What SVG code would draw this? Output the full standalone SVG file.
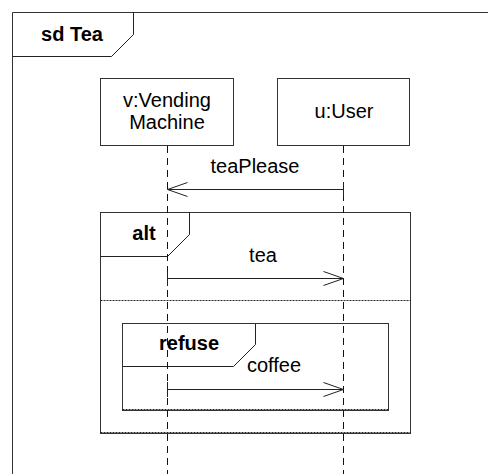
<svg xmlns="http://www.w3.org/2000/svg" width="488" height="474" viewBox="0 0 488 474">
<style>
.ln{stroke:#222;stroke-width:1;fill:none}
.fr{stroke:#333;stroke-width:1;fill:#fff}
.life{stroke:#111;stroke-width:1;stroke-dasharray:7,5;fill:none}
.t{font-family:"Liberation Sans",Arial,sans-serif;font-size:20px;fill:#000;text-anchor:middle}
.b{font-weight:bold}
.sep{stroke:#222;stroke-width:1;stroke-dasharray:2,1;fill:none}
</style>
<rect width="488" height="474" fill="#fff"/>
<g id="frame-sd">
<path class="fr" d="M12.5,474 V12.5 H488"/>
<path class="ln" d="M12.5,56.5 H111.5 L133.5,34.5 V12.5"/>
<text class="t b" x="72" y="41">sd Tea</text>
</g>
<g id="frame-alt">
<rect class="fr" x="100.5" y="212.5" width="310" height="221" fill="none"/>
<path class="ln" d="M100.5,256.5 H167.5 L189.5,234.5 V212.5"/>
<text class="t b" x="144" y="240">alt</text>
<line class="sep" x1="100.5" y1="300.5" x2="410.5" y2="300.5"/>
<line class="sep" x1="100.5" y1="432.5" x2="410.5" y2="432.5"/>
</g>
<g id="frame-refuse">
<rect class="fr" x="122.5" y="323.5" width="266" height="87" fill="none"/>
<path class="ln" d="M122.5,366.5 H233.5 L255.5,344.5 V323.5"/>
<text class="t b" x="189" y="350">refuse</text>
<line class="sep" x1="122.5" y1="409.5" x2="388.5" y2="409.5"/>
</g>
<g id="v">
<rect class="fr" x="100.5" y="78.5" width="133" height="67"/>
<text class="t" x="167" y="107">v:Vending</text>
<text class="t" x="167" y="129">Machine</text>
</g>
<g id="u">
<rect class="fr" x="277.5" y="78.5" width="132" height="67"/>
<text class="t" x="344" y="118">u:User</text>
</g>
<g id="connectors">
<line class="life" x1="167.5" y1="146" x2="167.5" y2="474"/>
<line class="life" x1="343.5" y1="146" x2="343.5" y2="474"/>
<line class="ln" x1="343.5" y1="189.5" x2="167.5" y2="189.5"/>
<path class="ln" d="M187.5,182.5 L167.5,189.5 L187.5,196.5"/>
<line class="ln" x1="343.5" y1="182" x2="343.5" y2="197"/>
<line class="ln" x1="167.5" y1="278.5" x2="343.5" y2="278.5"/>
<path class="ln" d="M323.5,271.5 L343.5,278.5 L323.5,285.5"/>
<line class="ln" x1="167.5" y1="271" x2="167.5" y2="286"/>
<line class="ln" x1="167.5" y1="389.5" x2="343.5" y2="389.5"/>
<path class="ln" d="M323.5,382.5 L343.5,389.5 L323.5,396.5"/>
<line class="ln" x1="167.5" y1="382" x2="167.5" y2="397"/>
</g>
<g id="labels">
<text class="t" x="255" y="173">teaPlease</text>
<text class="t" x="263" y="262">tea</text>
<text class="t" x="274" y="372">coffee</text>
</g>
</svg>
